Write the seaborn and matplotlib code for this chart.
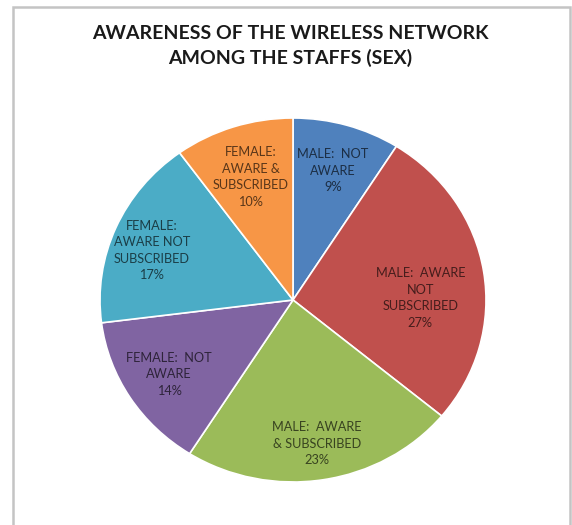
import numpy as np
import matplotlib
matplotlib.use("Agg")
import matplotlib.pyplot as plt
import matplotlib.colors as mcolors
from matplotlib.patches import Rectangle
import seaborn as sns

# slices, clockwise from 12 o'clock
categories = [
    "MALE:  NOT\nAWARE",
    "MALE:  AWARE\nNOT\nSUBSCRIBED",
    "MALE:  AWARE\n& SUBSCRIBED",
    "FEMALE:  NOT\nAWARE",
    "FEMALE:\nAWARE NOT\nSUBSCRIBED",
    "FEMALE:\nAWARE &\nSUBSCRIBED",
]
percent = [9, 27, 23, 14, 17, 10]
slice_colors = ["#4F81BD", "#C0504D", "#9BBB59", "#8064A2", "#4BACC6", "#F79646"]

sns.set_theme(style="white")
plt.rcParams["font.family"] = ["Lato", "DejaVu Sans"]

palette = sns.color_palette(slice_colors)

fig = plt.figure(figsize=(5.72, 5.25), dpi=100)
ax = fig.add_axes([0, 0, 1, 1])

labels = [f"{c}\n{p}%" for c, p in zip(categories, percent)]
wedges, texts = ax.pie(
    percent,
    labels=labels,
    colors=palette,
    startangle=90,
    counterclock=False,
    labeldistance=0.74,
    wedgeprops=dict(edgecolor="white", linewidth=1.2),
    textprops=dict(fontsize=9.2),
)

# nudge labels along their wedge like the original layout
label_r = [0.74, 0.66, 0.80, 0.76, 0.78, 0.71]
label_turn = [0, -8, 0, 0, 3, 0]
for w, t, r, d, col in zip(wedges, texts, label_r, label_turn, palette):
    ang = np.deg2rad((w.theta1 + w.theta2) / 2 + d)
    t.set_position((r * np.cos(ang), r * np.sin(ang)))
    t.set_ha("center")
    t.set_va("center")
    t.set_multialignment("center")
    t.set_linespacing(1.45)
    dark = tuple(c * 0.36 for c in mcolors.to_rgb(col))
    t.set_color(dark)

# slightly stretched pie like the source image
rx, ry = 193, 182
cx, cy = 293, 300
W, H = 572, 525
ax.set_aspect("auto")
ax.set_xlim(-cx / rx, (W - cx) / rx)
ax.set_ylim(-(H - cy) / ry, cy / ry)
ax.axis("off")

fig.text(0.507, 1 - 46 / H,
         "AWARENESS OF THE WIRELESS NETWORK\nAMONG THE STAFFS (SEX)",
         ha="center", va="center", fontsize=14, fontweight="bold",
         color="#1a1a1a", linespacing=1.4)

# chart area border
fig.patches.append(Rectangle((13 / W, -0.05), (570 - 13) / W, 1.05 - 7 / H,
                             transform=fig.transFigure, fill=False,
                             edgecolor="#c4c4c4", linewidth=1.8))

fig.savefig("out.png", dpi=100, facecolor="white")
